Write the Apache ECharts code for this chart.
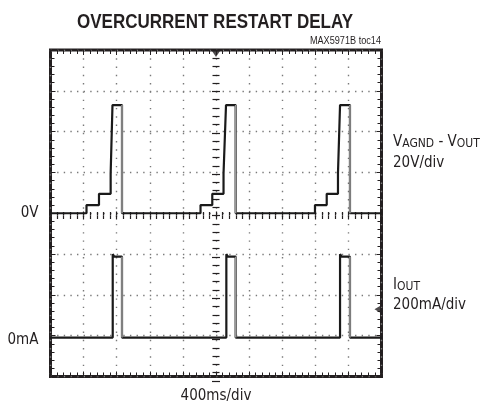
<!DOCTYPE html>
<html>
<head>
<meta charset="utf-8">
<script src="https://cdn.jsdelivr.net/npm/echarts@6/dist/echarts.min.js"></script>
<style>
  html, body { margin: 0; padding: 0; background: #fff; }
  #chart { width: 487px; height: 409px; }
</style>
</head>
<body>
<div id="chart"></div>
<script>
  // time in ms across the screen, 400ms/div, 10 divs
  var voltTime  = [0, 435, 435, 586, 586, 727, 727, 749, 864, 864,
                   1813, 1813, 1955, 1955, 2091, 2091, 2121, 2238, 2238,
                   3196, 3196, 3338, 3338, 3474, 3474, 3499, 3619, 3619, 4000];
  var voltValue = [0, 0, 4, 4, 9.5, 9.5, 19.5, 53, 53, 0,
                   0, 4, 4, 9.5, 9.5, 19.5, 53, 53, 0,
                   0, 4, 4, 9.5, 9.5, 19.5, 53, 53, 0, 0];
  var curTime  = [0, 752, 752, 770, 864, 864,
                  2125, 2125, 2143, 2238, 2238,
                  3499, 3499, 3517, 3619, 3619, 4000];
  var curValue = [10, 10, 413, 401, 401, 10,
                  10, 413, 401, 401, 10,
                  10, 413, 401, 401, 10, 10];
  var voltAxis = { min: -80, max: 80, step: 20 };   // 20V/div
  var curAxis  = { min: -200, max: 1400, step: 200 }; // 200mA/div
  var timeAxis = { min: 0, max: 4000, step: 400 };  // 400ms/div

  var ink = '#231f20';
  var font = '"DejaVu Sans Condensed", "Liberation Sans Narrow", sans-serif';

  function pairs(t, v) {
    return t.map(function (x, i) { return [x, v[i]]; });
  }
  // fast falling edges show up grey on the scope
  function falls(t, v) {
    var out = [];
    for (var i = 0; i < t.length - 1; i++) {
      if (t[i] === t[i + 1] && v[i + 1] < v[i]) {
        out.push([t[i], v[i]], [t[i], v[i + 1]], [t[i], '-']);
      }
    }
    return out;
  }

  var box = { left: 50.5, top: 50, width: 331, height: 331 };
  var dotted = { color: '#7a7a7a', width: 1.4 };
  var frameTick = { show: true, inside: true, length: 5, lineStyle: { color: ink, width: 1 } };
  var frameMinor = { show: true, splitNumber: 5, length: 4, lineStyle: { color: ink, width: 1 } };
  var crossTick = { show: true, inside: true, length: 4, lineStyle: { color: ink, width: 1.2 } };
  var crossMinor = { show: true, splitNumber: 5, length: 3.5, lineStyle: { color: ink, width: 1.2 } };

  var chart = echarts.init(document.getElementById('chart'));
  chart.setOption({
    animation: false,
    grid: [
      Object.assign({ show: true, borderColor: ink, borderWidth: 3, backgroundColor: 'transparent' }, box),
      Object.assign({}, box),
      Object.assign({}, box)
    ],
    xAxis: [
      { gridIndex: 0, type: 'value', position: 'bottom', min: timeAxis.min, max: timeAxis.max, interval: timeAxis.step,
        axisLine: { show: false, onZero: false }, axisTick: frameTick, minorTick: frameMinor,
        axisLabel: { show: false },
        splitLine: { show: true, lineStyle: Object.assign({ type: [1.4, 6.88] }, dotted) },
        name: '400ms/div', nameLocation: 'middle', nameGap: 20,
        nameTextStyle: { color: ink, fontSize: 15, fontFamily: font, verticalAlign: 'middle' } },
      { gridIndex: 0, type: 'value', position: 'top', min: timeAxis.min, max: timeAxis.max, interval: timeAxis.step,
        axisLine: { show: false, onZero: false }, axisTick: frameTick, minorTick: frameMinor,
        axisLabel: { show: false }, splitLine: { show: false } },
      { gridIndex: 1, type: 'value', min: timeAxis.min, max: timeAxis.max, interval: timeAxis.step, show: false },
      { gridIndex: 2, type: 'value', position: 'bottom', min: -5, max: 5, interval: 1,
        axisLine: { show: false, onZero: true, onZeroAxisIndex: 3 }, axisTick: crossTick, minorTick: crossMinor,
        axisLabel: { show: false }, splitLine: { show: false } },
      { gridIndex: 2, type: 'value', position: 'top', min: -5, max: 5, interval: 1,
        axisLine: { show: false, onZero: true, onZeroAxisIndex: 3 }, axisTick: crossTick, minorTick: crossMinor,
        axisLabel: { show: false }, splitLine: { show: false } }
    ],
    yAxis: [
      { gridIndex: 0, type: 'value', position: 'left', min: voltAxis.min, max: voltAxis.max, interval: voltAxis.step,
        axisLine: { show: false, onZero: false }, axisTick: frameTick, minorTick: frameMinor,
        axisLabel: { show: true, margin: 12, color: ink, fontSize: 15, fontFamily: font,
          formatter: function (v) { return v === 0 ? '0V' : ''; } },
        splitLine: { show: true, lineStyle: Object.assign({ type: [1.4, 5.22] }, dotted) } },
      { gridIndex: 0, type: 'value', position: 'right', min: voltAxis.min, max: voltAxis.max, interval: voltAxis.step,
        axisLine: { show: false, onZero: false }, axisTick: frameTick, minorTick: frameMinor,
        axisLabel: { show: false }, splitLine: { show: false } },
      { gridIndex: 1, type: 'value', position: 'left', min: curAxis.min, max: curAxis.max, interval: curAxis.step,
        axisLine: { show: false, onZero: false }, axisTick: { show: false },
        axisLabel: { show: true, margin: 12, color: ink, fontSize: 15, fontFamily: font,
          formatter: function (v) { return v === 0 ? '0mA' : ''; } },
        splitLine: { show: false } },
      { gridIndex: 2, type: 'value', position: 'left', min: -4, max: 4, interval: 1,
        axisLine: { show: false, onZero: true, onZeroAxisIndex: 3 }, axisTick: crossTick, minorTick: crossMinor,
        axisLabel: { show: false }, splitLine: { show: false } },
      { gridIndex: 2, type: 'value', position: 'right', min: -4, max: 4, interval: 1,
        axisLine: { show: false, onZero: true, onZeroAxisIndex: 3 }, axisTick: crossTick, minorTick: crossMinor,
        axisLabel: { show: false }, splitLine: { show: false } }
    ],
    series: [
      { name: 'VAGND - VOUT', type: 'line', xAxisIndex: 0, yAxisIndex: 0, data: pairs(voltTime, voltValue),
        symbol: 'none', z: 5, lineStyle: { color: '#1a1a1a', width: 2.2 } },
      { type: 'line', xAxisIndex: 0, yAxisIndex: 0, data: falls(voltTime, voltValue),
        symbol: 'none', z: 6, connectNulls: false, lineStyle: { color: '#9a9a9a', width: 1.6 } },
      { name: 'IOUT', type: 'line', xAxisIndex: 2, yAxisIndex: 2, data: pairs(curTime, curValue),
        symbol: 'none', z: 5, lineStyle: { color: '#1a1a1a', width: 2.2 } },
      { type: 'line', xAxisIndex: 2, yAxisIndex: 2, data: falls(curTime, curValue),
        symbol: 'none', z: 6, connectNulls: false, lineStyle: { color: '#9a9a9a', width: 1.6 } },
      // trigger position and trigger level markers
      { type: 'scatter', xAxisIndex: 0, yAxisIndex: 0, data: [[2000, 80]], symbol: 'triangle',
        symbolRotate: 180, symbolSize: [8, 6], symbolOffset: [0, 4], z: 7, itemStyle: { color: ink } },
      { type: 'scatter', xAxisIndex: 2, yAxisIndex: 2, data: [[3915, 147]], symbol: 'arrow',
        symbolRotate: 90, symbolSize: [7, 8], z: 7, itemStyle: { color: ink } }
    ],
    graphic: [
      { type: 'text', x: 215, y: 22, scaleX: 0.81, style: { text: 'OVERCURRENT RESTART DELAY', fill: ink,
          font: 'bold 21px "Liberation Sans", sans-serif', align: 'center', verticalAlign: 'middle' } },
      { type: 'text', x: 381, y: 41, scaleX: 0.87, style: { text: 'MAX5971B toc14', fill: ink,
          font: '10.5px "Liberation Sans", sans-serif', align: 'right', verticalAlign: 'middle' } },
      { type: 'text', x: 393, y: 142, style: { text: '{m|V}{s|AGND}{m| - V}{s|OUT}', fill: ink, align: 'left', verticalAlign: 'middle',
          rich: { m: { fontSize: 15, fontFamily: font, fill: ink, verticalAlign: 'bottom' },
                  s: { fontSize: 12, fontFamily: font, fill: ink, verticalAlign: 'bottom' } } } },
      { type: 'text', x: 393, y: 163, style: { text: '20V/div', fill: ink, fontSize: 15, fontFamily: font,
          align: 'left', verticalAlign: 'middle' } },
      { type: 'text', x: 393, y: 285, style: { text: '{m|I}{s|OUT}', fill: ink, align: 'left', verticalAlign: 'middle',
          rich: { m: { fontSize: 15, fontFamily: font, fill: ink, verticalAlign: 'bottom' },
                  s: { fontSize: 12, fontFamily: font, fill: ink, verticalAlign: 'bottom' } } } },
      { type: 'text', x: 393, y: 305, style: { text: '200mA/div', fill: ink, fontSize: 15, fontFamily: font,
          align: 'left', verticalAlign: 'middle' } }
    ]
  });
</script>
</body>
</html>
